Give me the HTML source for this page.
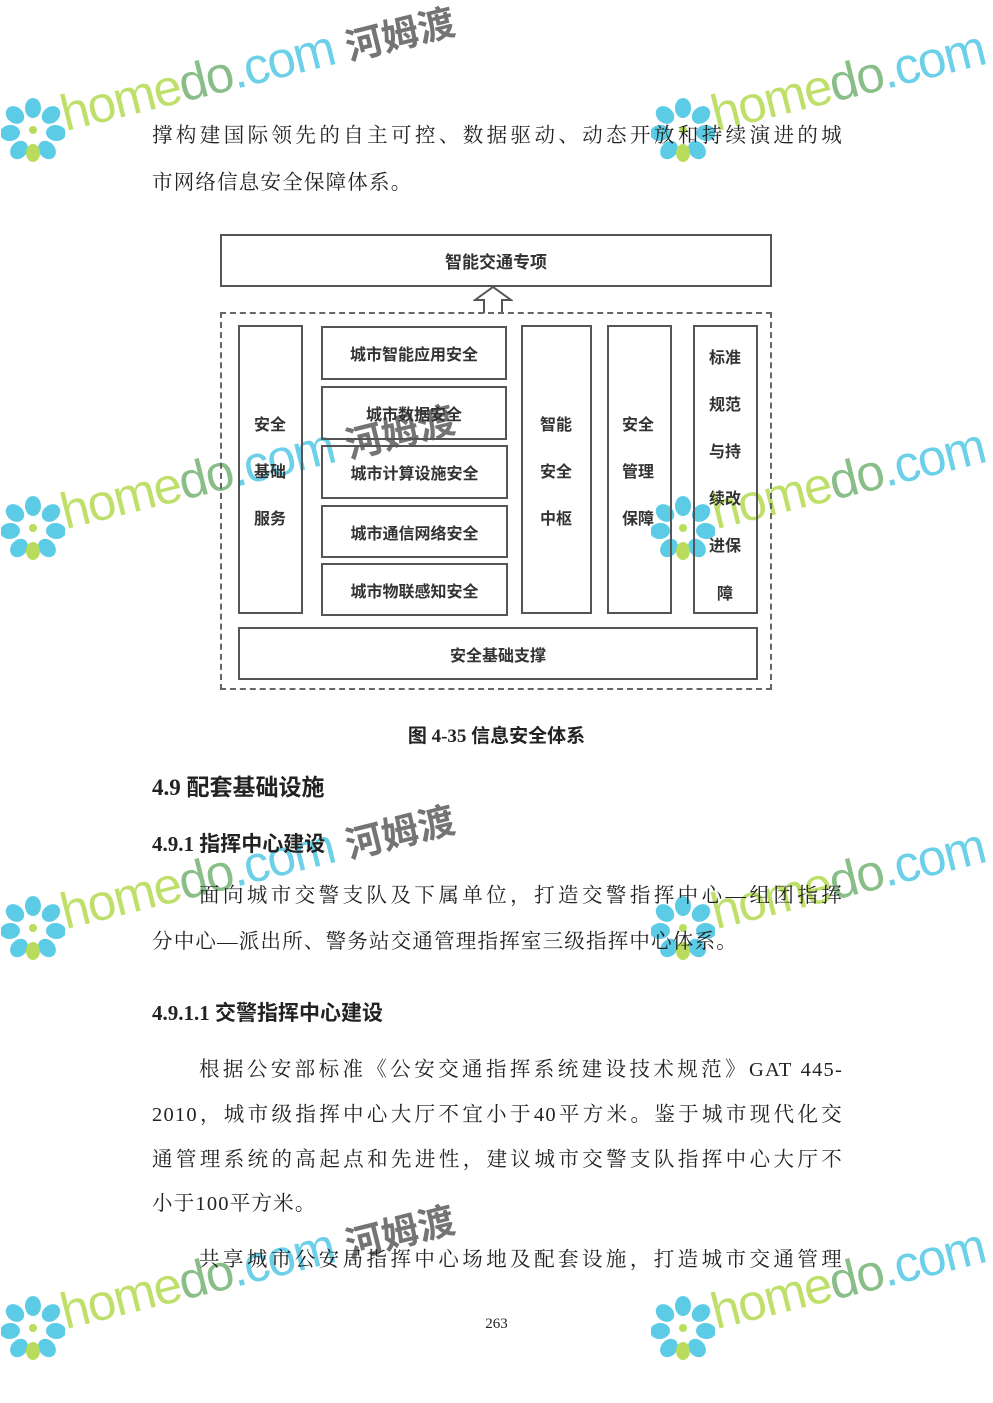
<!DOCTYPE html>
<html><head><meta charset="utf-8"><style>
body{margin:0;width:993px;height:1403px;background:#fff;position:relative;overflow:hidden;font-family:"Liberation Serif","Noto Serif CJK SC",serif;color:#222}
.t{position:absolute;left:152px;width:691px;font-size:20.5px;letter-spacing:1.2px;line-height:26px;white-space:nowrap}
.j{text-align:justify;text-align-last:justify}
.b{font-weight:bold;font-family:"Liberation Serif","Noto Sans CJK SC",serif}
.box{position:absolute;border:2px solid #555;box-sizing:border-box;font-family:"Liberation Sans","Noto Sans CJK SC",sans-serif;font-weight:bold;font-size:16px;color:#333;display:flex;align-items:center;justify-content:center}
.v{position:absolute;font-family:"Liberation Sans","Noto Sans CJK SC",sans-serif;font-weight:bold;font-size:16px;color:#333;width:60px;text-align:center;transform:translateY(-50%)}
.wm{position:absolute;transform-origin:0 100%;transform:rotate(-14deg);white-space:nowrap;font-family:"Liberation Sans",sans-serif;font-size:51px;line-height:51px;letter-spacing:-1.5px;opacity:.9}
.wm .h{color:#b9dc5c}.wm .d{color:#7db87c}.wm .c{color:#5ccbe6}.wm .k{color:#666;font-family:"Noto Sans CJK SC",sans-serif;font-weight:bold;font-size:37px;letter-spacing:0}
.fl{position:absolute;width:64px;height:64px}
</style></head><body>

<svg width="0" height="0" style="position:absolute"><defs><g id="f">
<g fill="#5ccbe6"><ellipse cx="32" cy="10" rx="8" ry="10"/><ellipse cx="50" cy="17" rx="8" ry="10" transform="rotate(50 50 17)"/><ellipse cx="55" cy="35" rx="8" ry="10" transform="rotate(95 55 35)"/><ellipse cx="46" cy="52" rx="8" ry="10" transform="rotate(140 46 52)"/><ellipse cx="14" cy="17" rx="8" ry="10" transform="rotate(-50 14 17)"/><ellipse cx="9" cy="35" rx="8" ry="10" transform="rotate(-95 9 35)"/><ellipse cx="18" cy="52" rx="8" ry="10" transform="rotate(-140 18 52)"/></g>
<ellipse cx="32" cy="55" rx="7" ry="9" fill="#b9dc5c"/><circle cx="32" cy="32" r="4" fill="#b9dc5c"/></g></defs></svg>

<svg class="fl" style="left:1px;top:98px"><use href="#f"/></svg>
<div class="wm" style="left:68px;top:88px"><span class="h">home</span><span class="d">do</span><span class="c">.com</span> <span class="k">河姆渡</span></div>
<svg class="fl" style="left:651px;top:98px"><use href="#f"/></svg>
<div class="wm" style="left:718px;top:88px"><span class="h">home</span><span class="d">do</span><span class="c">.com</span></div>

<svg class="fl" style="left:1px;top:496px"><use href="#f"/></svg>
<div class="wm" style="left:68px;top:486px"><span class="h">home</span><span class="d">do</span><span class="c">.com</span> <span class="k">河姆渡</span></div>
<svg class="fl" style="left:651px;top:496px"><use href="#f"/></svg>
<div class="wm" style="left:718px;top:486px"><span class="h">home</span><span class="d">do</span><span class="c">.com</span></div>

<svg class="fl" style="left:1px;top:896px"><use href="#f"/></svg>
<div class="wm" style="left:68px;top:886px"><span class="h">home</span><span class="d">do</span><span class="c">.com</span> <span class="k">河姆渡</span></div>
<svg class="fl" style="left:651px;top:896px"><use href="#f"/></svg>
<div class="wm" style="left:718px;top:886px"><span class="h">home</span><span class="d">do</span><span class="c">.com</span></div>

<svg class="fl" style="left:1px;top:1296px"><use href="#f"/></svg>
<div class="wm" style="left:68px;top:1286px"><span class="h">home</span><span class="d">do</span><span class="c">.com</span> <span class="k">河姆渡</span></div>
<svg class="fl" style="left:651px;top:1296px"><use href="#f"/></svg>
<div class="wm" style="left:718px;top:1286px"><span class="h">home</span><span class="d">do</span><span class="c">.com</span></div>

<div class="t j" style="top:123px">撑构建国际领先的自主可控、数据驱动、动态开放和持续演进的城</div>
<div class="t" style="top:170px">市网络信息安全保障体系。</div>

<div class="box" style="left:220px;top:234px;width:552px;height:53px;font-size:17px">智能交通专项</div>
<svg style="position:absolute;left:473px;top:285px" width="40" height="29"><path d="M11 28 V15 H2 L20 2 L38 15 H29 V28" fill="#fff" stroke="#555" stroke-width="2"/></svg>
<div style="position:absolute;left:220px;top:312px;width:552px;height:378px;border:2px dashed #666;box-sizing:border-box"></div>
<div class="box" style="left:238px;top:325px;width:65px;height:289px"></div>
<div class="v" style="left:240px;top:423px">安全</div><div class="v" style="left:240px;top:470px">基础</div><div class="v" style="left:240px;top:517px">服务</div>
<div class="box" style="left:321px;top:326px;width:186px;height:54px">城市智能应用安全</div>
<div class="box" style="left:321px;top:386px;width:186px;height:54px">城市数据安全</div>
<div class="box" style="left:321px;top:445px;width:187px;height:54px">城市计算设施安全</div>
<div class="box" style="left:321px;top:505px;width:187px;height:53px">城市通信网络安全</div>
<div class="box" style="left:321px;top:563px;width:187px;height:53px">城市物联感知安全</div>
<div class="box" style="left:521px;top:325px;width:71px;height:289px"></div>
<div class="v" style="left:526px;top:423px">智能</div><div class="v" style="left:526px;top:470px">安全</div><div class="v" style="left:526px;top:517px">中枢</div>
<div class="box" style="left:607px;top:325px;width:65px;height:289px"></div>
<div class="v" style="left:608px;top:423px">安全</div><div class="v" style="left:608px;top:470px">管理</div><div class="v" style="left:608px;top:517px">保障</div>
<div class="box" style="left:693px;top:325px;width:65px;height:289px"></div>
<div class="v" style="left:695px;top:356px">标准</div><div class="v" style="left:695px;top:403px">规范</div><div class="v" style="left:695px;top:450px">与持</div><div class="v" style="left:695px;top:497px">续改</div><div class="v" style="left:695px;top:544px">进保</div><div class="v" style="left:695px;top:592px">障</div>
<div class="box" style="left:238px;top:627px;width:520px;height:53px">安全基础支撑</div>

<div class="b" style="position:absolute;left:0;width:993px;text-align:center;top:721px;font-size:19px">图 4-35 信息安全体系</div>
<div class="b" style="position:absolute;left:152px;top:768px;font-size:23px">4.9 配套基础设施</div>
<div class="b" style="position:absolute;left:152px;top:828px;font-size:21px">4.9.1 指挥中心建设</div>
<div class="t j" style="top:883px;left:199px;width:644px">面向城市交警支队及下属单位，打造交警指挥中心—组团指挥</div>
<div class="t" style="top:929px">分中心—派出所、警务站交通管理指挥室三级指挥中心体系。</div>
<div class="b" style="position:absolute;left:152px;top:997px;font-size:21px">4.9.1.1 交警指挥中心建设</div>
<div class="t j" style="top:1057px;left:199px;width:644px">根据公安部标准《公安交通指挥系统建设技术规范》GAT 445-</div>
<div class="t j" style="top:1102px">2010，城市级指挥中心大厅不宜小于40平方米。鉴于城市现代化交</div>
<div class="t j" style="top:1147px">通管理系统的高起点和先进性，建议城市交警支队指挥中心大厅不</div>
<div class="t" style="top:1191px">小于100平方米。</div>
<div class="t j" style="top:1247px;left:199px;width:644px">共享城市公安局指挥中心场地及配套设施，打造城市交通管理</div>
<div style="position:absolute;left:0;width:993px;text-align:center;top:1316px;font-size:15px">263</div>
</body></html>
